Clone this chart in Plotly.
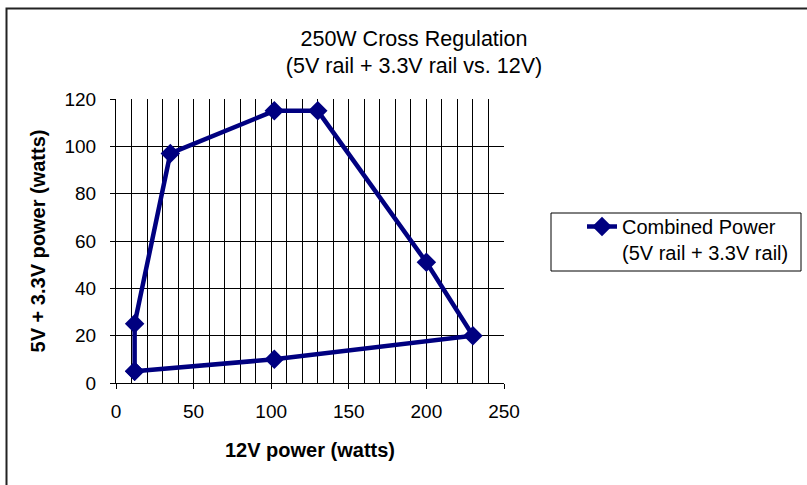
import plotly.graph_objects as go

# ---- data ----
power_12v = [12, 12, 35, 102, 130, 200, 230, 102, 12]
power_5v_33v = [5, 25, 97, 115, 115, 51, 20, 10, 5]
series_name = "Combined Power<br>(5V rail + 3.3V rail)"
x_ticks = [0, 50, 100, 150, 200, 250]
y_ticks = [0, 20, 40, 60, 80, 100, 120]

W, H = 807, 485
L, R, T, B = 116, 504, 99, 383  # plot area in pixels

def px(xp):
    return (xp - L) / (R - L)

def py(yp):
    return (B - yp) / (B - T)

FONT = "Liberation Sans, Arial, sans-serif"
NAVY = "#000080"

fig = go.Figure()
fig.add_trace(go.Scatter(
    x=power_12v, y=power_5v_33v, mode="lines+markers", name=series_name,
    line=dict(color=NAVY, width=4.5),
    marker=dict(symbol="diamond", size=15, color=NAVY),
    showlegend=True,
))

fig.update_layout(
    width=W, height=H,
    margin=dict(l=L, r=W - R, t=T, b=H - B, pad=0),
    paper_bgcolor="white", plot_bgcolor="white",
    font=dict(family=FONT, color="black", size=19),
    title=dict(
        text="250W Cross Regulation<br>(5V rail + 3.3V rail vs. 12V)",
        font=dict(family=FONT, size=21.5, color="black"),
        x=414 / W, xanchor="center", xref="container",
        y=1 - 45.5 / H, yanchor="middle", yref="container",
    ),
    xaxis=dict(
        range=[0, 250], tickvals=x_ticks, ticks="outside", ticklen=5, tickcolor="black",
        showline=True, linecolor="black", linewidth=1,
        showgrid=True, gridcolor="black", gridwidth=1, zeroline=False,
        minor=dict(dtick=10, showgrid=True, gridcolor="black", gridwidth=1),
        tickfont=dict(size=19), ticklabelstandoff=6,
        title=dict(text="12V power (watts)", font=dict(size=20, weight="bold"), standoff=22),
    ),
    yaxis=dict(
        range=[0, 120], tickvals=y_ticks, ticks="outside", ticklen=5, tickcolor="black",
        showline=True, linecolor="black", linewidth=1,
        showgrid=True, gridcolor="black", gridwidth=1, zeroline=False,
        tickfont=dict(size=19), ticklabelstandoff=10,
        title=dict(text="5V + 3.3V power (watts)", font=dict(size=20, weight="bold"), standoff=13),
    ),
    legend=dict(
        x=px(582), y=py(207), xanchor="left", yanchor="top",
        bgcolor="rgba(0,0,0,0)", borderwidth=0, valign="top",
        font=dict(family=FONT, size=20, color="black"),
    ),
    shapes=[
        # outer chart border (right/bottom lie outside the picture)
        dict(type="rect", xref="paper", yref="paper",
             x0=px(6.5), x1=px(830), y0=py(510), y1=py(8.5),
             line=dict(color="#222222", width=2), fillcolor="rgba(0,0,0,0)", layer="below"),
        # legend box
        dict(type="rect", xref="paper", yref="paper",
             x0=px(551), x1=px(801), y0=py(271), y1=py(213),
             line=dict(color="black", width=1), fillcolor="rgba(0,0,0,0)"),
    ],
)

fig.write_html("out.html", config={"displayModeBar": False},
               post_script="document.body.style.margin='0px';")
